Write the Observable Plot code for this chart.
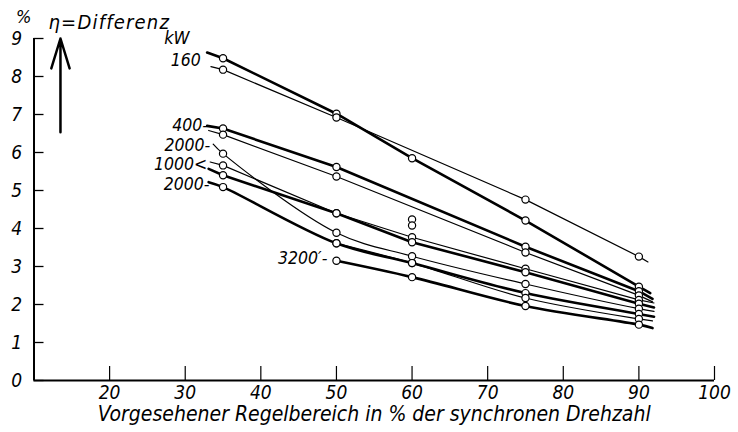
<!DOCTYPE html>
<html><head><meta charset="utf-8">
<script src="https://cdn.jsdelivr.net/npm/d3@7"></script>
<script src="https://cdn.jsdelivr.net/npm/@observablehq/plot@0.6"></script>
<style>body{margin:0;background:#fff;} svg{display:block}</style>
</head><body><div id="chart"></div>
<script>
// measured abscissae (% Regelbereich)
const xPoints = [35, 50, 60, 75, 90];
const seriesNames = ["160 a","160 b","400 a","400 b","1000 a","1000 b","2000 a","2000 b","2000 c","3200"];
const seriesWeight = ["thick","thin","thick","thin","thin","thick","thin","thick","thin","thick"];
const seriesShape = ["straight","straight","straight","straight","straight","straight","curved","curved","curved","curved"];
const seriesValues = [
  [8.48, 7.02, 5.85, 4.21, 2.47],
  [8.18, 6.92, null, 4.76, 3.26],
  [6.63, 5.62, null, 3.52, 2.35],
  [6.47, 5.37, null, 3.37, 2.24],
  [5.66, 4.40, 3.77, 2.94, 2.12],
  [5.40, 4.40, 3.64, 2.85, 2.02],
  [5.97, 3.89, 3.27, 2.54, 1.89],
  [5.09, 3.61, 3.09, 2.30, 1.75],
  [null, 3.61, 3.09, 2.17, 1.62],
  [null, 3.15, 2.72, 1.96, 1.47]
];
// line run-in / run-out ends (no marker)
const leadX = [32.9, 33.4, 32.9, 33.1, 33.3, 33.1, 33.7, 33.1, null, null];
const leadY = [8.63, 8.26, 6.70, 6.58, 5.75, 5.57, 6.22, 5.22, null, null];
const tailX = [91.5, 91.2, 91.8, 91.8, 92.0, 92.0, 92.0, 92.0, 91.8, 91.8];
const tailY = [2.30, 3.12, 2.15, 2.07, 2.04, 1.92, 1.82, 1.68, 1.57, 1.38];
// isolated measured points
const extraX = [60, 60];
const extraY = [4.24, 4.08];
// curve labels
const labelTexts = ["kW", "160", "400-", "2000-", "1000<", "2000-", "3200\u2032-"];
const labelX = [28.9, 32.05, 33.0, 33.3, 32.9, 33.2, 48.8];
const labelY = [9.0, 8.42, 6.71, 6.20, 5.70, 5.16, 3.21];
const labelAnchor = ["middle", "end", "end", "end", "end", "end", "end"];
// axes
const yTicks = [0, 1, 2, 3, 4, 5, 6, 7, 8, 9];
const xTicks = [20, 30, 40, 50, 60, 70, 80, 90, 100];
const xTitle = "Vorgesehener Regelbereich in % der synchronen Drehzahl";
const yTitle = "\u03B7=Differenz";
const yUnit = "%";
const arrowX = [13.5];
const arrowY1 = [6.53];
const arrowY2 = [9.0];

const rows = [];
seriesNames.forEach((name, i) => {
  const w = seriesWeight[i], s = seriesShape[i];
  if (leadX[i] != null) rows.push({series: name, weight: w, shape: s, x: leadX[i], y: leadY[i], marker: false});
  seriesValues[i].forEach((v, j) => {
    if (v != null) rows.push({series: name, weight: w, shape: s, x: xPoints[j], y: v, marker: true});
  });
  rows.push({series: name, weight: w, shape: s, x: tailX[i], y: tailY[i], marker: false});
});
const markers = rows.filter(d => d.marker).map(d => ({x: d.x, y: d.y}))
  .concat(extraX.map((x, i) => ({x, y: extraY[i]})));
const labels = labelTexts.map((t, i) => ({t, x: labelX[i], y: labelY[i], a: labelAnchor[i]}));
const arrows = arrowX.map((x, i) => ({x, y1: arrowY1[i], y2: arrowY2[i]}));

const lineMarks = [];
for (const w of ["thin", "thick"]) for (const s of ["straight", "curved"]) {
  lineMarks.push(Plot.line(rows.filter(d => d.weight === w && d.shape === s), {
    x: "x", y: "y", z: "series",
    curve: s === "straight" ? "linear" : "catmull-rom",
    stroke: "black", strokeWidth: w === "thin" ? 1.2 : 2.6
  }));
}

const font = "'DejaVu Sans Condensed', 'DejaVu Sans', sans-serif";
const chart = Plot.plot({
  width: 738, height: 432,
  marginLeft: 33.5, marginRight: 24, marginTop: 38, marginBottom: 52,
  x: {domain: [10, 100]},
  y: {domain: [0, 9]},
  style: {fontFamily: font, fontStyle: "italic", fontSize: "19px", color: "#000", background: "#fff", overflow: "visible"},
  marks: [
    Plot.ruleX([10], {strokeWidth: 2}),
    Plot.ruleY([0], {strokeWidth: 2.2}),
    Plot.axisY(yTicks, {tickSize: -10, tickFormat: () => "", label: null, strokeWidth: 1.3}),
    Plot.axisY(yTicks, {tickSize: 0, tickPadding: 12, label: null, fontSize: 19}),
    Plot.axisX(xTicks, {tickSize: -14, tickFormat: () => "", label: null, strokeWidth: 1.2}),
    Plot.axisX(xTicks, {tickSize: 0, tickPadding: 5, label: null, fontSize: 19}),
    ...lineMarks,
    Plot.dot(markers, {x: "x", y: "y", r: 3.6, fill: "white", stroke: "black", strokeWidth: 1.2}),
    Plot.text(labels.filter(d => d.a === "end"), {x: "x", y: "y", text: "t", textAnchor: "end", fontSize: 17.5}),
    Plot.text(labels.filter(d => d.a === "middle"), {x: "x", y: "y", text: "t", textAnchor: "middle", fontSize: 18}),
    Plot.arrow(arrows, {x1: "x", x2: "x", y1: "y1", y2: "y2", strokeWidth: 2.5, headLength: 20, headAngle: 34}),
    Plot.text([xTitle], {frameAnchor: "bottom", dy: 40, fontSize: 21}),
    Plot.text([yTitle], {frameAnchor: "top-left", dx: 14.5, dy: -24, textAnchor: "start", fontSize: 20}),
    Plot.text([yUnit], {frameAnchor: "top-left", dx: -18, dy: -28, fontSize: 18})
  ]
});
d3.select(chart).selectAll("text").filter(function() { return this.textContent === yTitle; })
  .style("letter-spacing", "1.2px");
document.getElementById("chart").appendChild(chart);
</script>
</body></html>
